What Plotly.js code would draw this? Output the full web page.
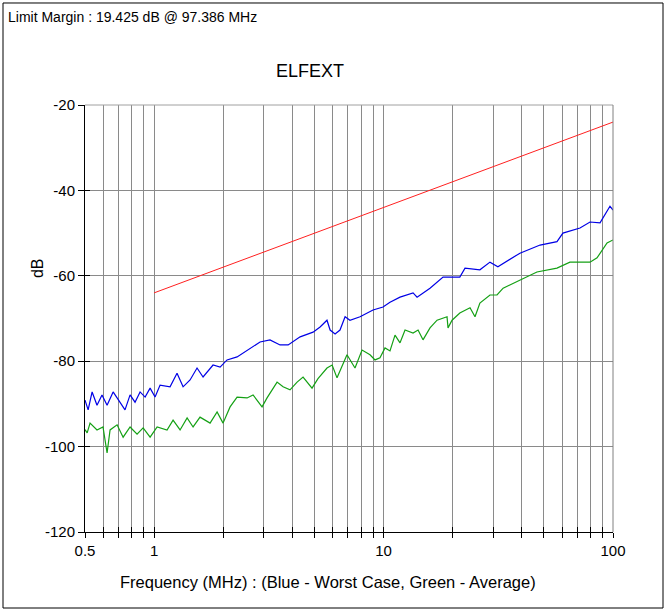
<!DOCTYPE html>
<html>
<head>
<meta charset="utf-8">
<script src="https://cdn.plot.ly/plotly-3.0.1.min.js"></script>
<style>
html,body{margin:0;padding:0;background:#fff;}
#chart{width:667px;height:612px;}
</style>
</head>
<body>
<div id="chart"></div>
<script>
// Worst case (blue)
var blueFreq = [0.5,0.516,0.537,0.564,0.593,0.624,0.663,0.711,0.747,0.786,0.826,0.869,0.914,0.961,1.01,1.062,1.174,1.259,1.338,1.435,1.539,1.635,1.807,1.94,2.08,2.3,2.443,2.896,3.2,3.54,3.84,4.33,4.93,5.29,5.67,5.85,6.15,6.46,6.8,7.14,7.9,9.0,9.95,10.67,11.8,13.45,14.0,15.94,18.17,21.5,22.65,26.3,29.1,31.5,39.3,48.1,57.0,60.5,71.8,79.4,87.8,97.0,100];
var blueDb = [-89.1,-91.4,-87.2,-90.3,-87.9,-90.3,-87.2,-89.6,-91.4,-87.9,-89.6,-87.2,-88.4,-86.3,-88.4,-85.6,-86.0,-82.8,-86.0,-84.4,-81.6,-83.7,-80.9,-81.4,-79.7,-79.0,-78.1,-75.5,-75.0,-76.2,-76.2,-74.3,-73.2,-72.0,-70.4,-72.7,-73.6,-72.7,-69.6,-70.4,-69.6,-68.0,-67.3,-66.2,-65.0,-64.0,-65.0,-62.9,-60.3,-60.3,-58.2,-58.6,-56.8,-57.9,-54.7,-52.8,-52.0,-50.0,-48.8,-47.4,-47.6,-43.7,-44.6];
// Average (green)
var greenFreq = [0.5,0.511,0.526,0.564,0.599,0.624,0.643,0.69,0.733,0.786,0.843,0.896,0.961,1.031,1.139,1.21,1.298,1.393,1.479,1.586,1.754,1.882,1.998,2.144,2.3,2.543,2.7,2.955,3.107,3.436,3.649,3.913,4.2,4.46,4.88,5.18,5.67,5.97,6.27,6.66,6.93,7.51,8.06,8.73,9.18,9.65,10.15,10.67,11.22,11.8,12.41,13.45,14.14,14.86,15.94,17.11,18.91,19.1,19.89,21.5,23.82,25.04,26.3,29.1,31.23,33.2,39.3,46.6,57.0,64.9,79.4,85.2,94.2,100];
var greenDb = [-96.0,-96.8,-94.5,-96.1,-95.4,-101.5,-96.1,-94.9,-97.8,-95.4,-97.1,-95.6,-97.8,-95.4,-96.1,-93.8,-96.1,-93.3,-95.4,-93.1,-94.5,-91.9,-94.5,-90.7,-88.4,-88.6,-87.9,-90.7,-88.6,-84.9,-86.0,-86.7,-84.9,-83.7,-86.3,-84.1,-81.6,-80.9,-83.9,-80.4,-78.5,-81.6,-77.4,-78.5,-79.7,-79.2,-76.9,-77.6,-73.9,-75.7,-72.7,-73.4,-72.7,-75.0,-72.2,-70.4,-69.6,-72.2,-70.4,-68.7,-67.5,-69.6,-66.4,-64.5,-64.5,-62.9,-61.0,-59.1,-58.2,-56.8,-56.8,-55.8,-52.3,-51.6];
// Limit line (red)
var limitFreq = [1, 100];
var limitDb = [-64, -24];

var xTickVals = [0.5,0.6,0.7,0.8,0.9,1,2,3,4,5,6,7,8,9,10,20,30,40,50,60,70,80,90,100];
var xTickText = ['0.5','','','','','1','','','','','','','','','10','','','','','','','','','100'];
var yTickVals = [-120,-100,-80,-60,-40,-20];
var yTickText = ['-120','-100','-80','-60','-40','-20'];

var titleText = 'ELFEXT';
var marginText = 'Limit Margin : 19.425 dB @ 97.386 MHz';
var xTitleText = 'Frequency (MHz) : (Blue - Worst Case, Green - Average)';
var yTitleText = 'dB';

var FONT = 'Liberation Sans, Arial, sans-serif';

var traces = [
  {x: greenFreq, y: greenDb, type: 'scatter', mode: 'lines', line: {color: '#14a014', width: 1.2}, hoverinfo: 'skip'},
  {x: blueFreq, y: blueDb, type: 'scatter', mode: 'lines', line: {color: '#0000e6', width: 1.2}, hoverinfo: 'skip'},
  {x: limitFreq, y: limitDb, type: 'scatter', mode: 'lines', line: {color: '#ff2020', width: 1}, hoverinfo: 'skip'},
  {x: limitFreq, y: limitDb, xaxis: 'x2', yaxis: 'y2', type: 'scatter', mode: 'lines', line: {width: 0}, opacity: 0, hoverinfo: 'skip'}
];

var xr = [Math.log10(0.5), 2];
var layout = {
  width: 667, height: 612,
  margin: {l: 85, r: 54, t: 105, b: 80, pad: 0},
  paper_bgcolor: '#ffffff', plot_bgcolor: '#ffffff',
  showlegend: false,
  font: {family: FONT, size: 14, color: '#000'},
  xaxis: {
    type: 'log', range: xr, tickvals: xTickVals, ticktext: xTickText,
    showgrid: true, gridcolor: '#8a8a8a', gridwidth: 1,
    showline: true, linecolor: '#000', linewidth: 1,
    ticks: 'outside', ticklen: 5, tickcolor: '#000', tickwidth: 1,
    tickfont: {family: FONT, size: 15, color: '#000'},
    zeroline: false, fixedrange: true
  },
  yaxis: {
    range: [-120, -20], tickvals: yTickVals, ticktext: yTickText,
    showgrid: true, gridcolor: '#8a8a8a', gridwidth: 1,
    showline: true, linecolor: '#000', linewidth: 1,
    ticks: 'outside', ticklen: 6, tickcolor: '#000', tickwidth: 1,
    tickfont: {family: FONT, size: 15, color: '#000'},
    zeroline: false, fixedrange: true
  },
  xaxis2: {
    type: 'log', range: xr, tickvals: xTickVals, overlaying: 'x', anchor: 'y2',
    showgrid: false, showline: false, showticklabels: false,
    ticks: 'inside', ticklen: 5, tickcolor: '#000', tickwidth: 1, zeroline: false
  },
  yaxis2: {
    range: [-120, -20], tickvals: yTickVals, overlaying: 'y', anchor: 'x2',
    showgrid: false, showline: false, showticklabels: false,
    ticks: 'inside', ticklen: 5, tickcolor: '#000', tickwidth: 1, zeroline: false
  },
  shapes: [
    {type: 'line', xref: 'paper', yref: 'paper', x0: 0, x1: 1, y0: 1, y1: 1, line: {color: '#a0a0a0', width: 1}},
    {type: 'line', xref: 'paper', yref: 'paper', x0: 1, x1: 1, y0: 0, y1: 1, line: {color: '#808080', width: 1}},
    {type: 'rect', xref: 'paper', yref: 'paper', x0: -0.1553, x1: 1.0947, y0: -0.178, y1: 1.2389, line: {color: '#000', width: 1}}
  ],
  annotations: [
    {text: marginText, xref: 'paper', yref: 'paper', x: -0.1496, y: 1.206, xanchor: 'left', yanchor: 'middle', showarrow: false, font: {family: FONT, size: 14, color: '#000'}},
    {text: titleText, xref: 'paper', yref: 'paper', x: 0.426, y: 1.0796, xanchor: 'center', yanchor: 'middle', showarrow: false, font: {family: FONT, size: 18, color: '#000'}},
    {text: xTitleText, xref: 'paper', yref: 'paper', x: 0.460, y: -0.117, xanchor: 'center', yanchor: 'middle', showarrow: false, font: {family: FONT, size: 16.5, color: '#000'}},
    {text: yTitleText, xref: 'paper', yref: 'paper', x: -0.0909, y: 0.618, xanchor: 'center', yanchor: 'middle', textangle: -90, showarrow: false, font: {family: FONT, size: 16, color: '#000'}}
  ]
};

Plotly.newPlot('chart', traces, layout, {staticPlot: true, displayModeBar: false});
</script>
</body>
</html>
